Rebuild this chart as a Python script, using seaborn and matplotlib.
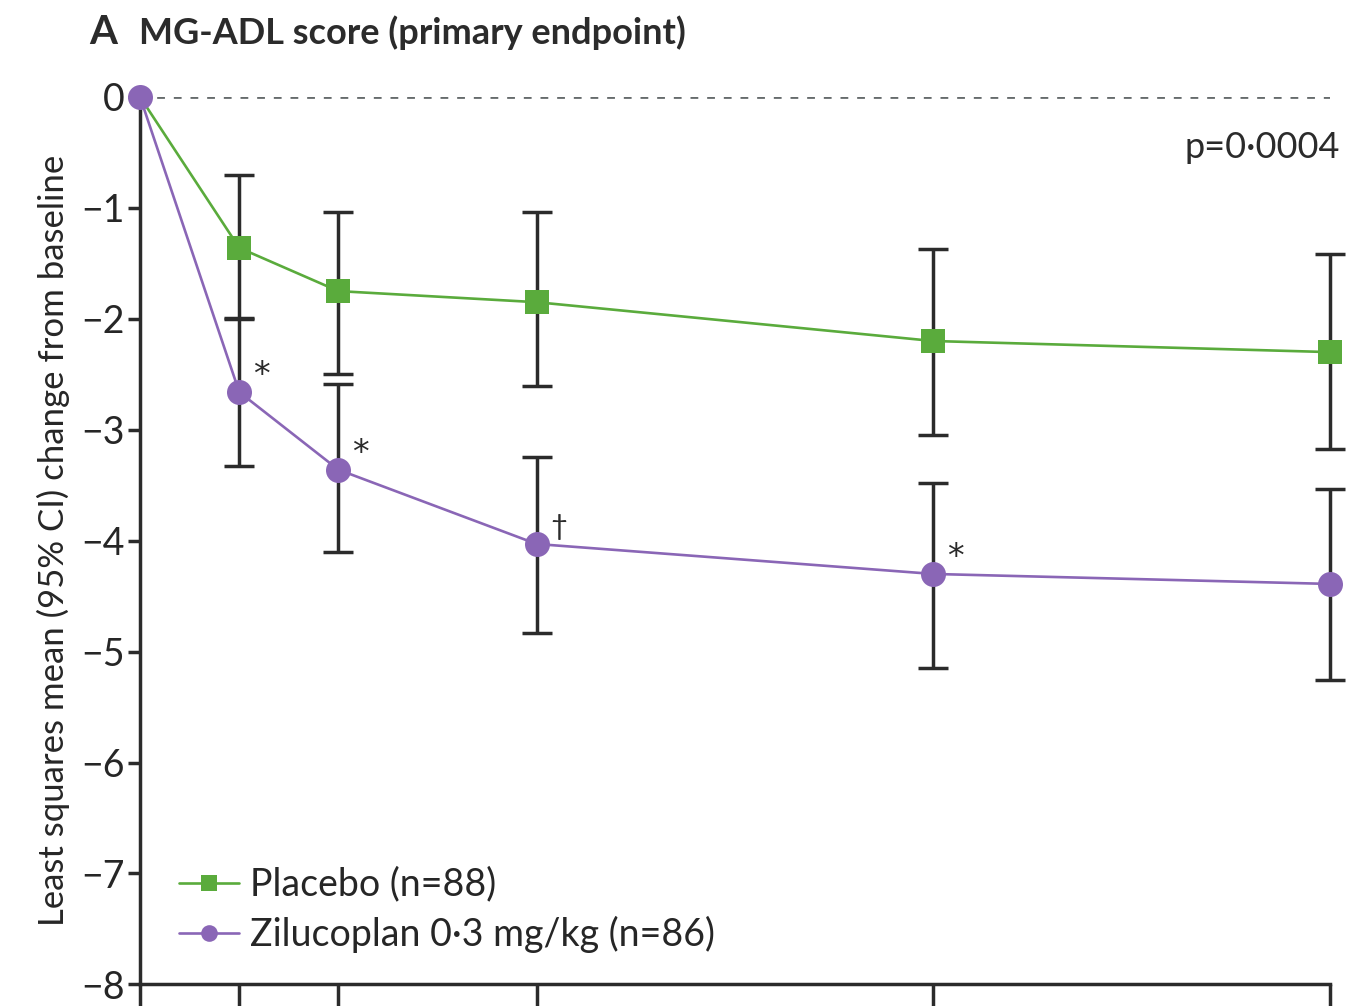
import numpy as np
import pandas as pd
import matplotlib
matplotlib.use("Agg")
import matplotlib.pyplot as plt
import seaborn as sns
from matplotlib.lines import Line2D

# ---- data ----
weeks = [0, 1, 2, 4, 8, 12]
placebo_label = "Placebo (n=88)"
zilu_label = "Zilucoplan 0·3 mg/kg (n=86)"
placebo_mean = [0, -1.36, -1.75, -1.85, -2.20, -2.30]
placebo_lo = [0, -1.99, -2.50, -2.61, -3.05, -3.17]
placebo_hi = [0, -0.70, -1.04, -1.04, -1.37, -1.42]
zilu_mean = [0, -2.66, -3.36, -4.03, -4.30, -4.39]
zilu_lo = [0, -3.33, -4.10, -4.83, -5.15, -5.26]
zilu_hi = [0, -2.00, -2.59, -3.25, -3.48, -3.53]
zilu_marks = ["", "*", "*", "†", "*", ""]
yticks = [0, -1, -2, -3, -4, -5, -6, -7, -8]

green = "#5aab3c"
purple = "#8a66b6"
dark = "#2b2b2b"

sns.set_theme(style="white")
plt.rcParams["font.family"] = ["Lato", "DejaVu Sans"]
plt.rcParams["axes.unicode_minus"] = True

df_p = pd.DataFrame({"week": weeks, "value": placebo_mean})
df_z = pd.DataFrame({"week": weeks, "value": zilu_mean})

fig = plt.figure(figsize=(13.48, 10.06), dpi=100)
ax = fig.add_axes([0.1039, 0.0215, 0.8827, 0.8821])

ax.axhline(0, color="#666b6c", linestyle=(0, (2.8, 3.2)), linewidth=2.0, zorder=1)

# error bars (95% CI)
w = np.array(weeks[1:])
for mean, lo, hi in [(placebo_mean, placebo_lo, placebo_hi), (zilu_mean, zilu_lo, zilu_hi)]:
    m = np.array(mean[1:]); l = np.array(lo[1:]); h = np.array(hi[1:])
    ax.errorbar(w, m, yerr=[m - l, h - m], fmt="none", ecolor=dark,
                elinewidth=2.5, capsize=11, capthick=2.5, zorder=3, clip_on=False)

sns.lineplot(data=df_p, x="week", y="value", color=green, marker="s",
             markersize=17, markeredgewidth=0, linewidth=1.9, markevery=[1, 2, 3, 4, 5],
             ax=ax, zorder=4, clip_on=False, legend=False)
sns.lineplot(data=df_z, x="week", y="value", color=purple, marker="o",
             markersize=18, markeredgewidth=0, linewidth=1.9,
             ax=ax, zorder=5, clip_on=False, legend=False)

# significance marks
for x, y, s in zip(weeks, zilu_mean, zilu_marks):
    if s:
        ax.annotate(s, (x, y), xytext=(16, 12), textcoords="offset points",
                    fontsize=24 if s == "*" else 21, ha="center", va="center", color=dark,
                    family=["DejaVu Sans"] if s == "*" else None)

ax.set_xlim(0, 12)
ax.set_ylim(-8, 0)
ax.set_xticks(weeks)
ax.set_xticklabels([""] * len(weeks))
ax.set_yticks(yticks)
ax.set_yticklabels(["0"] + [f"\u2212{abs(t)}" for t in yticks[1:]])
ax.tick_params(axis="x", direction="out", length=16, width=2.5, color=dark, bottom=True)
ax.tick_params(axis="y", direction="out", length=9, width=2.5, color=dark,
               labelsize=27, pad=2, left=True)
for sp in ["top", "right"]:
    ax.spines[sp].set_visible(False)
for sp in ["left", "bottom"]:
    ax.spines[sp].set_color(dark)
    ax.spines[sp].set_linewidth(2.5)

ax.set_xlabel("")
ax.set_ylabel("Least squares mean (95% CI) change from baseline", fontsize=25, labelpad=8)

ax.text(1.008, 0.943, "p=0·0004", transform=ax.transAxes, ha="right", va="center",
        fontsize=26, color=dark)

fig.text(0.066, 0.968, "A", fontsize=29, fontweight="bold", color=dark, va="center")
fig.text(0.103, 0.968, "MG-ADL score (primary endpoint)", fontsize=26, fontweight="bold",
         color=dark, va="center")

handles = [Line2D([], [], color=green, marker="s", markersize=12, linewidth=1.9, markeredgewidth=0),
           Line2D([], [], color=purple, marker="o", markersize=12, linewidth=1.9, markeredgewidth=0)]
ax.legend(handles, [placebo_label, zilu_label], loc="lower left",
          bbox_to_anchor=(0.02, 0.018), frameon=False, fontsize=27,
          handlelength=1.6, handletextpad=0.3, labelspacing=0.36, borderaxespad=0)

fig.savefig("out.png", dpi=100)
